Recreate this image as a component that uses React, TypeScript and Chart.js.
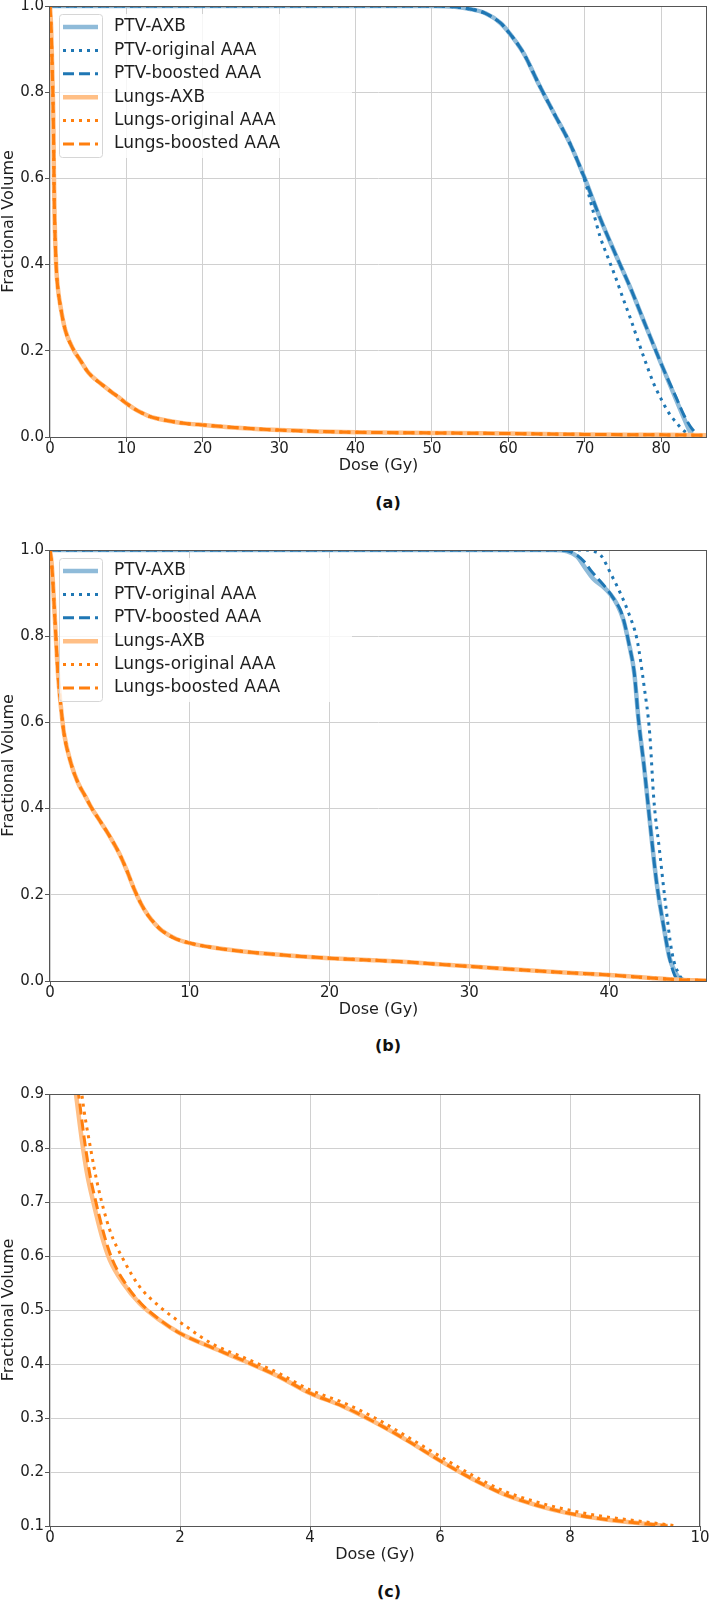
import React, { useEffect, useRef } from "react";
import { Chart, registerables } from "chart.js";

Chart.register(...registerables);

// ---------- labels ----------
const seriesLabels = [
  "PTV-AXB",
  "PTV-original AAA",
  "PTV-boosted AAA",
  "Lungs-AXB",
  "Lungs-original AAA",
  "Lungs-boosted AAA",
];
const xTitle = "Dose (Gy)";
const yTitle = "Fractional Volume";
const captions = ["(a)", "(b)", "(c)"];

// ---------- tick values ----------
const aXTicks = [0, 10, 20, 30, 40, 50, 60, 70, 80];
const aYTicks = [0, 0.2, 0.4, 0.6, 0.8, 1.0];
const bXTicks = [0, 10, 20, 30, 40];
const bYTicks = [0, 0.2, 0.4, 0.6, 0.8, 1.0];
const cXTicks = [0, 2, 4, 6, 8, 10];
const cYTicks = [0.1, 0.2, 0.3, 0.4, 0.5, 0.6, 0.7, 0.8, 0.9];

// ---------- panel (a) data ----------
const aPtvAxbDose = [0, 50, 53, 55, 57, 59, 60, 62, 64, 66, 68, 70, 72, 74, 76, 78, 80, 82, 83, 83.8, 84.3];
const aPtvAxbVol = [1, 1, 0.998, 0.993, 0.983, 0.96, 0.94, 0.89, 0.818, 0.75, 0.683, 0.6, 0.508, 0.425, 0.345, 0.257, 0.17, 0.085, 0.043, 0.012, 0];
const aPtvOrigDose = [0, 50, 53, 55, 57, 59, 60, 62, 64, 66, 68, 70, 71, 72, 73, 74, 75, 76, 77, 78, 79, 80, 81, 82, 83, 84, 85];
const aPtvOrigVol = [1, 1, 0.998, 0.993, 0.983, 0.96, 0.94, 0.89, 0.818, 0.75, 0.683, 0.595, 0.53, 0.465, 0.418, 0.372, 0.322, 0.274, 0.222, 0.172, 0.125, 0.088, 0.056, 0.033, 0.014, 0.004, 0];
const aPtvBoostDose = [0, 50, 53, 55, 57, 59, 60, 62, 64, 66, 68, 70, 72, 74, 76, 78, 80, 82, 83, 84, 85.2];
const aPtvBoostVol = [1, 1, 0.998, 0.993, 0.983, 0.96, 0.94, 0.89, 0.818, 0.75, 0.683, 0.6, 0.508, 0.425, 0.345, 0.257, 0.17, 0.09, 0.05, 0.02, 0];
const aLungDose = [0, 0.15, 0.3, 0.45, 0.52, 0.6, 0.8, 1, 1.4, 2, 3, 4, 5, 6, 7, 8, 9, 10, 11, 12, 13, 14, 16, 18, 20, 25, 30, 35, 40, 50, 60, 70, 80, 86];
const aLungVol = [1, 0.95, 0.85, 0.72, 0.6, 0.51, 0.4, 0.35, 0.3, 0.248, 0.205, 0.177, 0.15, 0.133, 0.119, 0.105, 0.092, 0.078, 0.066, 0.056, 0.048, 0.043, 0.036, 0.031, 0.028, 0.021, 0.016, 0.013, 0.011, 0.0095, 0.008, 0.006, 0.005, 0.004];

// ---------- panel (b) data ----------
const bPtvAxbDose = [0, 36, 37, 37.7, 38.3, 38.9, 39.5, 40.1, 40.6, 41.0, 41.4, 41.8, 42.1, 42.5, 43.0, 43.4, 43.9, 44.3, 44.7, 45.0, 45.5];
const bPtvAxbVol = [1, 1, 0.997, 0.985, 0.958, 0.932, 0.917, 0.897, 0.872, 0.84, 0.785, 0.714, 0.606, 0.497, 0.342, 0.227, 0.126, 0.056, 0.022, 0.008, 0];
const bPtvOrigDose = [0, 38.3, 38.7, 39.4, 40.1, 40.8, 41.4, 42.0, 42.5, 42.9, 43.2, 43.6, 44.0, 44.5, 45.0, 45.4];
const bPtvOrigVol = [1, 1, 0.998, 0.988, 0.946, 0.9, 0.853, 0.791, 0.684, 0.575, 0.42, 0.304, 0.188, 0.065, 0.015, 0];
const bPtvBoostDose = [0, 36, 37, 37.7, 38.3, 38.7, 39.3, 39.9, 40.5, 40.8, 41.1, 41.4, 41.8, 42.1, 42.5, 43.0, 43.4, 43.9, 44.3, 44.6, 44.9];
const bPtvBoostVol = [1, 1, 0.998, 0.988, 0.97, 0.952, 0.93, 0.907, 0.878, 0.861, 0.83, 0.785, 0.714, 0.606, 0.497, 0.342, 0.227, 0.126, 0.056, 0.02, 0];
const bLungDose = [0, 0.1, 0.2, 0.3, 0.4, 0.5, 0.6, 0.8, 1, 1.5, 2, 2.5, 3, 3.5, 4, 4.5, 5, 5.5, 6, 6.5, 7, 7.5, 8, 9, 10, 12, 14, 16, 18, 20, 25, 30, 35, 40, 43, 45, 47];
const bLungVol = [1, 0.975, 0.93, 0.87, 0.81, 0.75, 0.7, 0.63, 0.575, 0.505, 0.46, 0.43, 0.4, 0.375, 0.35, 0.323, 0.293, 0.256, 0.215, 0.18, 0.153, 0.133, 0.117, 0.098, 0.088, 0.076, 0.068, 0.062, 0.057, 0.053, 0.045, 0.034, 0.023, 0.014, 0.007, 0.003, 0.001];

// ---------- panel (c) data ----------
const cLungAxbDose = [0.3, 0.35, 0.4, 0.49, 0.57, 0.67, 0.8, 0.92, 1.13, 1.38, 1.69, 2, 2.5, 3, 3.5, 4, 4.5, 5, 5.5, 6, 6.5, 7, 7.5, 8, 8.5, 9, 9.5];
const cLungAxbVol = [1.0, 0.95, 0.9, 0.815, 0.753, 0.698, 0.636, 0.593, 0.549, 0.512, 0.481, 0.457, 0.43, 0.405, 0.378, 0.346, 0.322, 0.292, 0.258, 0.221, 0.187, 0.158, 0.138, 0.123, 0.113, 0.106, 0.1];
const cLungOrigDose = [0.4, 0.45, 0.49, 0.62, 0.74, 0.92, 1.13, 1.38, 1.69, 2.1, 2.5, 3, 3.5, 4, 4.5, 5, 5.5, 6, 6.5, 7, 7.5, 8, 8.5, 9, 9.6];
const cLungOrigVol = [1.0, 0.95, 0.9, 0.802, 0.728, 0.648, 0.593, 0.543, 0.506, 0.469, 0.437, 0.411, 0.384, 0.352, 0.329, 0.3, 0.265, 0.229, 0.194, 0.164, 0.144, 0.129, 0.118, 0.11, 0.101];
const cLungBoostDose = [0.34, 0.39, 0.44, 0.53, 0.61, 0.71, 0.84, 0.96, 1.16, 1.4, 1.7, 2, 2.5, 3, 3.5, 4, 4.5, 5, 5.5, 6, 6.5, 7, 7.5, 8, 8.5, 9, 9.5];
const cLungBoostVol = [1.0, 0.95, 0.9, 0.815, 0.753, 0.698, 0.636, 0.593, 0.549, 0.512, 0.481, 0.457, 0.43, 0.405, 0.378, 0.346, 0.322, 0.292, 0.258, 0.221, 0.187, 0.158, 0.138, 0.123, 0.113, 0.106, 0.1];

// ---------- styles ----------
const BLUE = "#1f77b4";
const BLUE_LIGHT = "#8fbbd9";
const ORANGE = "#ff7f0e";
const ORANGE_LIGHT = "#ffbf86";
const FONT = "'DejaVu Sans', 'Liberation Sans', sans-serif";
const TEXT = "#1e1e1e";
const SPINE = "#555555";
const GRID = "#d0d0d0";

type Style = { color: string; width: number; dash: number[] };
const solidBlue: Style = { color: BLUE_LIGHT, width: 4.5, dash: [] };
const dotBlue: Style = { color: BLUE, width: 3, dash: [3, 5] };
const dashBlue: Style = { color: BLUE, width: 3, dash: [11, 5] };
const solidOrange: Style = { color: ORANGE_LIGHT, width: 4.5, dash: [] };
const dotOrange: Style = { color: ORANGE, width: 3, dash: [3, 5] };
const dashOrange: Style = { color: ORANGE, width: 3, dash: [11, 5] };

type Series = { label: string; dose: number[]; vol: number[]; style: Style };
type Panel = {
  canvasTop: number;
  axisTop: number;
  axisBottom: number;
  axisRight: number;
  xMax: number;
  yMin: number;
  yMax: number;
  xTicks: number[];
  yTicks: number[];
  legend: boolean;
  series: Series[];
};

const W = 709;
const AXIS_LEFT = 50;
const XSCALE_H = 38;

const panels: Panel[] = [
  {
    canvasTop: 0, axisTop: 6, axisBottom: 437, axisRight: 707,
    xMax: 86, yMin: 0, yMax: 1, xTicks: aXTicks, yTicks: aYTicks, legend: true,
    series: [
      { label: seriesLabels[0], dose: aPtvAxbDose, vol: aPtvAxbVol, style: solidBlue },
      { label: seriesLabels[1], dose: aPtvOrigDose, vol: aPtvOrigVol, style: dotBlue },
      { label: seriesLabels[2], dose: aPtvBoostDose, vol: aPtvBoostVol, style: dashBlue },
      { label: seriesLabels[3], dose: aLungDose, vol: aLungVol, style: solidOrange },
      { label: seriesLabels[4], dose: aLungDose, vol: aLungVol, style: dotOrange },
      { label: seriesLabels[5], dose: aLungDose, vol: aLungVol, style: dashOrange },
    ],
  },
  {
    canvasTop: 520, axisTop: 550, axisBottom: 981, axisRight: 707,
    xMax: 47, yMin: 0, yMax: 1, xTicks: bXTicks, yTicks: bYTicks, legend: true,
    series: [
      { label: seriesLabels[0], dose: bPtvAxbDose, vol: bPtvAxbVol, style: solidBlue },
      { label: seriesLabels[1], dose: bPtvOrigDose, vol: bPtvOrigVol, style: dotBlue },
      { label: seriesLabels[2], dose: bPtvBoostDose, vol: bPtvBoostVol, style: dashBlue },
      { label: seriesLabels[3], dose: bLungDose, vol: bLungVol, style: solidOrange },
      { label: seriesLabels[4], dose: bLungDose, vol: bLungVol, style: dotOrange },
      { label: seriesLabels[5], dose: bLungDose, vol: bLungVol, style: dashOrange },
    ],
  },
  {
    canvasTop: 1064, axisTop: 1094, axisBottom: 1526, axisRight: 700,
    xMax: 10, yMin: 0.1, yMax: 0.9, xTicks: cXTicks, yTicks: cYTicks, legend: false,
    series: [
      { label: seriesLabels[3], dose: cLungAxbDose, vol: cLungAxbVol, style: solidOrange },
      { label: seriesLabels[4], dose: cLungOrigDose, vol: cLungOrigVol, style: dotOrange },
      { label: seriesLabels[5], dose: cLungBoostDose, vol: cLungBoostVol, style: dashOrange },
    ],
  },
];

const captionCenters = [
  { x: 388, y: 503 },
  { x: 388, y: 1046 },
  { x: 389, y: 1592 },
];

function makeOverlay(showLegend: boolean) {
  return {
    id: "dvhOverlay",
    afterDatasetsDraw(chart: any) {
      const { ctx, chartArea } = chart;
      const { left, top, right, bottom } = chartArea;
      ctx.save();
      ctx.strokeStyle = SPINE;
      ctx.lineWidth = 1;
      ctx.setLineDash([]);
      const l = Math.round(left) - 0.5;
      const t = Math.round(top) + 0.5;
      const r = Math.round(right) - 0.5;
      const b = Math.round(bottom) + 0.5;
      ctx.strokeRect(l, t, r - l, b - t);
      if (showLegend) {
        ctx.fillStyle = "rgba(255,255,255,0.8)";
        ctx.fillRect(59, top + 8, 293, 144);
        ctx.strokeStyle = "#d6d6d6";
        ctx.lineWidth = 1;
        ctx.beginPath();
        const fx = 59.5, fy = top + 8.5, fw = 43, fh = 143, rr = 3;
        ctx.moveTo(fx + rr, fy);
        ctx.lineTo(fx + fw - rr, fy);
        ctx.arcTo(fx + fw, fy, fx + fw, fy + rr, rr);
        ctx.lineTo(fx + fw, fy + fh - rr);
        ctx.arcTo(fx + fw, fy + fh, fx + fw - rr, fy + fh, rr);
        ctx.lineTo(fx + rr, fy + fh);
        ctx.arcTo(fx, fy + fh, fx, fy + fh - rr, rr);
        ctx.lineTo(fx, fy + rr);
        ctx.arcTo(fx, fy, fx + rr, fy, rr);
        ctx.stroke();
        chart.data.datasets.forEach((ds: any, i: number) => {
          const y = top + 21 + i * 23.4;
          ctx.strokeStyle = ds.borderColor;
          ctx.lineWidth = ds.borderWidth;
          ctx.setLineDash(ds.borderDash || []);
          ctx.lineCap = "butt";
          ctx.beginPath();
          ctx.moveTo(63, y);
          ctx.lineTo(98, y);
          ctx.stroke();
          ctx.setLineDash([]);
          ctx.fillStyle = TEXT;
          ctx.font = `17px ${FONT}`;
          ctx.textBaseline = "middle";
          ctx.textAlign = "left";
          ctx.fillText(ds.label, 114, y);
        });
      }
      ctx.restore();
    },
  };
}

function PanelChart({ panel }: { panel: Panel }) {
  const ref = useRef<HTMLCanvasElement | null>(null);
  const height = panel.axisBottom + XSCALE_H - panel.canvasTop;

  useEffect(() => {
    if (!ref.current) return;
    const n = panel.series.length;
    const chart = new Chart(ref.current, {
      type: "line",
      data: {
        datasets: panel.series.map((s, i) => ({
          label: s.label,
          data: s.dose.map((d, k) => ({ x: d, y: s.vol[k] })),
          borderColor: s.style.color,
          backgroundColor: s.style.color,
          borderWidth: s.style.width,
          borderDash: s.style.dash,
          borderCapStyle: "butt",
          pointRadius: 0,
          pointHoverRadius: 0,
          fill: false,
          cubicInterpolationMode: "monotone",
          clip: 0,
          order: n - i,
        })) as any,
      },
      options: {
        responsive: false,
        animation: false,
        events: [],
        layout: {
          padding: {
            top: panel.axisTop - panel.canvasTop,
            right: W - panel.axisRight,
            left: 0,
            bottom: 0,
          },
        },
        plugins: {
          legend: { display: false },
          tooltip: { enabled: false },
          title: { display: false },
        },
        scales: {
          x: {
            type: "linear",
            min: 0,
            max: panel.xMax,
            afterBuildTicks: (scale: any) => {
              scale.ticks = panel.xTicks.map((v) => ({ value: v }));
            },
            afterFit: (scale: any) => {
              scale.height = XSCALE_H;
              scale.paddingLeft = 0;
              scale.paddingRight = 0;
            },
            border: { display: false },
            grid: {
              color: GRID,
              lineWidth: 1,
              drawTicks: true,
              tickLength: 5,
              tickColor: SPINE,
              tickWidth: 1,
            },
            ticks: {
              color: TEXT,
              font: { family: FONT, size: 15, lineHeight: 1 },
              padding: 0,
              maxRotation: 0,
              autoSkip: false,
              callback: (v: any) => String(v),
            },
            title: {
              display: true,
              text: xTitle,
              color: TEXT,
              font: { family: FONT, size: 16, lineHeight: 1.2 },
              padding: { top: 0, bottom: 0 },
            },
          },
          y: {
            type: "linear",
            min: panel.yMin,
            max: panel.yMax,
            afterBuildTicks: (scale: any) => {
              scale.ticks = panel.yTicks.map((v) => ({ value: v }));
            },
            afterFit: (scale: any) => {
              scale.width = AXIS_LEFT;
              scale.paddingTop = 0;
              scale.paddingBottom = 0;
            },
            border: { display: false },
            grid: {
              color: GRID,
              lineWidth: 1,
              drawTicks: true,
              tickLength: 5,
              tickColor: SPINE,
              tickWidth: 1,
            },
            ticks: {
              color: TEXT,
              font: { family: FONT, size: 15, lineHeight: 1 },
              padding: 1,
              autoSkip: false,
              callback: (v: any) => Number(v).toFixed(1),
            },
            title: {
              display: true,
              text: yTitle,
              color: TEXT,
              font: { family: FONT, size: 16, lineHeight: 1.05 },
              padding: { top: 0, bottom: 0 },
            },
          },
        },
      } as any,
      plugins: [makeOverlay(panel.legend)],
    });
    return () => chart.destroy();
  }, [panel]);

  return (
    <canvas
      ref={ref}
      width={W}
      height={height}
      style={{ position: "absolute", left: 0, top: panel.canvasTop, width: W, height }}
    />
  );
}

export default function App() {
  useEffect(() => {
    document.body.style.margin = "0";
    document.body.style.overflow = "hidden";
    document.body.style.background = "#ffffff";
  }, []);
  return (
    <div style={{ position: "relative", width: W, height: 1603, background: "#fff", overflow: "hidden" }}>
      {panels.map((p, i) => (
        <PanelChart key={i} panel={p} />
      ))}
      {captions.map((c, i) => (
        <div
          key={c}
          style={{
            position: "absolute",
            left: captionCenters[i].x,
            top: captionCenters[i].y - 10,
            transform: "translateX(-50%)",
            fontFamily: FONT,
            fontWeight: "bold",
            fontSize: 16,
            lineHeight: "20px",
            color: "#111",
            whiteSpace: "nowrap",
          }}
        >
          {c}
        </div>
      ))}
    </div>
  );
}
